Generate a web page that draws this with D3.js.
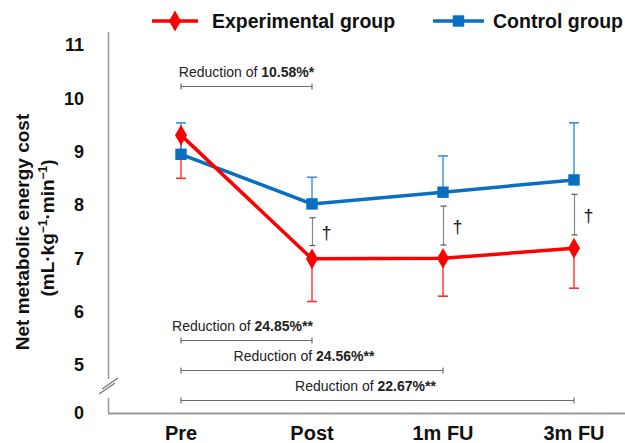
<!DOCTYPE html>
<html>
<head>
<meta charset="utf-8">
<script src="https://cdn.jsdelivr.net/npm/d3@7"></script>
<style>
html,body{margin:0;padding:0;background:#fff;}
svg{display:block;font-family:"Liberation Sans",Arial,sans-serif;}
</style>
</head>
<body>
<svg id="chart" width="625" height="443"></svg>
<script>
const categories = ["Pre", "Post", "1m FU", "3m FU"];
const expMean  = [9.31, 6.99, 7.00, 7.19];
const expLower = [8.50, 6.19, 6.29, 6.44];
const ctrlMean  = [8.95, 8.02, 8.24, 8.47];
const ctrlUpper = [9.54, 8.52, 8.92, 9.54];
const sigLow  = [null, 7.24, 7.25, 7.44];
const sigHigh = [null, 7.76, 7.98, 8.20];
const yTicks = [0, 5, 6, 7, 8, 9, 10, 11];
const reductions = [
  {from: 0, to: 1, pct: "10.58%*",  level: 10.24},
  {from: 0, to: 1, pct: "24.85%**", level: 5.47},
  {from: 0, to: 2, pct: "24.56%**", level: 4.48},
  {from: 0, to: 3, pct: "22.67%**", level: 1.35}
];
const legendItems = ["Experimental group", "Control group"];

const RED = "#FF0000", BLUE = "#0A6FC2", GRAY = "#6b6b6b";
const svg = d3.select("#chart");

const x = d3.scalePoint().domain(categories).range([181, 574]);
const y = d3.scaleLinear().domain([0, 5, 11]).range([413, 365, 45]);

// axes
svg.append("line").attr("x1",108.5).attr("x2",108.5).attr("y1",32).attr("y2",379)
  .attr("stroke","#999").attr("stroke-width",1.5);
svg.append("line").attr("x1",108.5).attr("x2",108.5).attr("y1",398).attr("y2",413)
  .attr("stroke","#999").attr("stroke-width",1.5);
svg.append("line").attr("x1",108).attr("x2",625).attr("y1",413.5).attr("y2",413.5)
  .attr("stroke","#999").attr("stroke-width",2);
[0,5].forEach(o=>{
  svg.append("line").attr("x1",99+o*0.6).attr("y1",394-o).attr("x2",115+o*0.6).attr("y2",383-o)
    .attr("stroke","#777").attr("stroke-width",1.3);
});

// y tick labels
svg.append("g").selectAll("text").data(yTicks).join("text")
  .attr("x", 84).attr("y", d=>y(d)).attr("dy","0.36em")
  .attr("text-anchor","end").attr("font-weight","bold").attr("font-size",18)
  .attr("fill","#111").text(d=>d);

// x labels
svg.append("g").selectAll("text").data(categories).join("text")
  .attr("x", d=>x(d)).attr("y", 440).attr("text-anchor","middle")
  .attr("font-weight","bold").attr("font-size",20).attr("fill","#111").text(d=>d);

// y title
const yt = svg.append("text").attr("transform","translate(29,232) rotate(-90)")
  .attr("text-anchor","middle").attr("font-weight","bold").attr("font-size",19).attr("fill","#111");
yt.append("tspan").attr("x",0).attr("y",0).text("Net metabolic energy cost");
const yt2 = svg.append("text").attr("transform","translate(54,228) rotate(-90)")
  .attr("text-anchor","middle").attr("font-weight","bold").attr("font-size",19).attr("fill","#111");
yt2.append("tspan").text("(mL·kg");
yt2.append("tspan").attr("font-size",12).attr("dy",-7).text("−1");
yt2.append("tspan").attr("dy",7).text("·min");
yt2.append("tspan").attr("font-size",12).attr("dy",-7).text("−1");
yt2.append("tspan").attr("dy",7).text(")");

// reduction brackets
reductions.forEach(r=>{
  const x1 = x(categories[r.from]), x2 = x(categories[r.to]), yy = Math.round(y(r.level))+0.5;
  const g = svg.append("g");
  g.append("line").attr("x1",x1).attr("x2",x2).attr("y1",yy).attr("y2",yy).attr("stroke",GRAY).attr("stroke-width",1.2);
  [x1,x2].forEach(xx=>g.append("line").attr("x1",xx).attr("x2",xx).attr("y1",yy-3).attr("y2",yy+3).attr("stroke",GRAY).attr("stroke-width",1.2));
  const t = g.append("text").attr("x",(x1+x2)/2 - (r.to-r.from)*4 + (r.level>9?4:0)).attr("y",yy-10)
    .attr("text-anchor","middle").attr("font-size",14).attr("fill","#222");
  t.append("tspan").text("Reduction of ");
  t.append("tspan").attr("font-weight","bold").text(r.pct);
});

// significance brackets (between groups)
categories.forEach((c,i)=>{
  if (sigLow[i]==null) return;
  const xx = x(c)+0.5, y1 = y(sigHigh[i]), y2 = y(sigLow[i]);
  svg.append("line").attr("x1",xx).attr("x2",xx).attr("y1",y1).attr("y2",y2).attr("stroke","#888").attr("stroke-width",1.2);
  [y1,y2].forEach(yy=>svg.append("line").attr("x1",xx-3).attr("x2",xx+3).attr("y1",yy).attr("y2",yy).attr("stroke","#555").attr("stroke-width",1.2));
  svg.append("text").attr("x",xx+14).attr("y",(y1+y2)/2).attr("dy","0.4em")
    .attr("text-anchor","middle").attr("font-size",18).attr("fill","#111").text("†");
});

// error bars
function errBars(means, ends, color){
  const g = svg.append("g");
  categories.forEach((c,i)=>{
    const xx = x(c);
    g.append("line").attr("x1",xx).attr("x2",xx).attr("y1",y(means[i])).attr("y2",y(ends[i])).attr("stroke",color).attr("stroke-width",1.4);
    g.append("line").attr("x1",xx-5).attr("x2",xx+5).attr("y1",y(ends[i])).attr("y2",y(ends[i])).attr("stroke",color).attr("stroke-width",1.6);
  });
}
errBars(expMean, expLower, "#FF3030");
errBars(ctrlMean, ctrlUpper, "#3A8FD6");

const line = d3.line().x((d,i)=>x(categories[i])).y(d=>y(d));
svg.append("path").datum(ctrlMean).attr("d",line).attr("fill","none").attr("stroke",BLUE).attr("stroke-width",3.5);
svg.append("path").datum(expMean).attr("d",line).attr("fill","none").attr("stroke",RED).attr("stroke-width",3.5);

const sq = d3.symbol().type(d3.symbolSquare).size(130);
const di = d3.symbol().type(d3.symbolDiamond).size(125);
svg.append("g").selectAll("path").data(ctrlMean).join("path")
  .attr("transform",(d,i)=>`translate(${x(categories[i])},${y(d)})`).attr("d",sq).attr("fill",BLUE);
svg.append("g").selectAll("path").data(expMean).join("path")
  .attr("transform",(d,i)=>`translate(${x(categories[i])},${y(d)})`).attr("d",di).attr("fill",RED);

// legend
const leg = [{x0:152, x1:198, color:RED, sym:di, tx:212}, {x0:433, x1:484, color:BLUE, sym:sq, tx:493}];
leg.forEach((l,i)=>{
  svg.append("line").attr("x1",l.x0).attr("x2",l.x1).attr("y1",21).attr("y2",21).attr("stroke",l.color).attr("stroke-width",3.5);
  svg.append("path").attr("transform",`translate(${(l.x0+l.x1)/2},21)`).attr("d",l.sym).attr("fill",l.color);
  svg.append("text").attr("x",l.tx).attr("y",21).attr("dy","0.36em").attr("font-weight","bold")
    .attr("font-size",19.5).attr("fill","#111").text(legendItems[i]);
});
</script>
</body>
</html>
